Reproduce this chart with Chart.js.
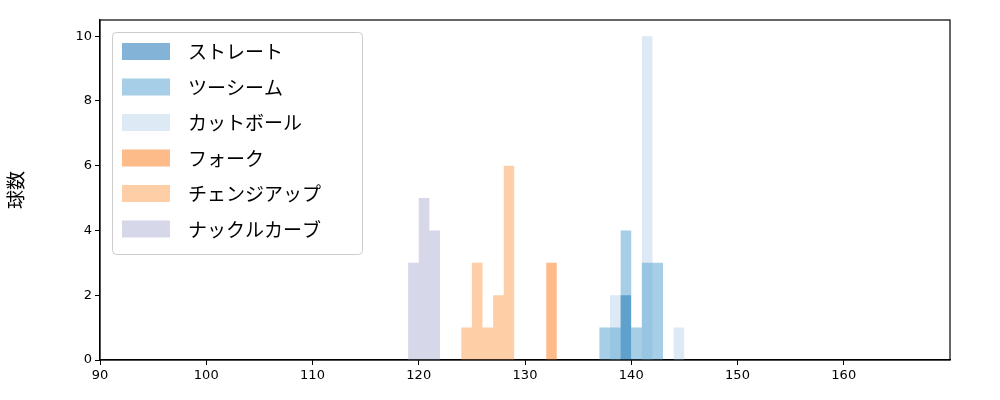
<!DOCTYPE html>
<html><head><meta charset="utf-8">
<script src="https://cdn.jsdelivr.net/npm/chart.js@4"></script>
<style>body{margin:0;background:#fff}#w{width:1000px;height:400px}</style>
</head><body><div id="w"><canvas id="c"></canvas></div>
<script>
const labels = ["ストレート","ツーシーム","カットボール","フォーク","チェンジアップ","ナックルカーブ"];
const colors = ["rgba(49,130,189,0.6)","rgba(107,174,214,0.6)","rgba(198,219,239,0.6)","rgba(253,141,60,0.6)","rgba(253,174,107,0.6)","rgba(188,189,220,0.6)"];
const straightEdges = [138,139,140];           const straightCounts = [2,5];
const twoseamEdges = [136,137,138,139,140,141,142,143]; const twoseamCounts = [1,1,4,1,3,3,2];
const cutterEdges = [137,138,139,140,141,142,143,144,145]; const cutterCounts = [2,0,0,10,0,0,1,1];
const forkEdges = [131,132,133];               const forkCounts = [3,1];
const changeEdges = [123,124,125,126,127,128,129]; const changeCounts = [1,3,1,2,6,1];
const curveEdges = [118,119,120,121,122];      const curveCounts = [3,5,4,1];
const xTicks = [90,100,110,120,130,140,150,160];
const yTicks = [0,2,4,6,8,10];
const edges = [straightEdges,twoseamEdges,cutterEdges,forkEdges,changeEdges,curveEdges];
const counts = [straightCounts,twoseamCounts,cutterCounts,forkCounts,changeCounts,curveCounts];
function pts(e,c){const p=[{x:e[0],y:0}];for(let i=0;i<c.length;i++)p.push({x:e[i+1],y:c[i]});return p;}
const datasets = labels.map((l,i)=>({label:l,data:pts(edges[i],counts[i]),stepped:'before',fill:'origin',backgroundColor:colors[i],borderWidth:0,pointRadius:0}));
const legendPlugin={id:'lg',afterDraw(ch){const g=ch.ctx;g.save();
 const a=ch.chartArea;g.strokeStyle='#000';g.lineWidth=1.2;g.strokeRect(a.left,a.top,a.right-a.left,a.bottom-a.top);
 const x=112,y=32,w=250,h=222;g.fillStyle='rgba(255,255,255,0.8)';g.strokeStyle='#ccc';g.lineWidth=1;
 g.beginPath();g.roundRect(x+0.5,y+0.5,w,h,4);g.fill();g.stroke();
 g.font='19px "Noto Sans CJK JP"';g.textBaseline='middle';
 labels.forEach((l,i)=>{const cy=51+i*35.5;g.fillStyle=colors[i];g.fillRect(122,cy-8,48,17);g.fillStyle='#000';g.fillText(l,188,cy+1);});
 g.restore();}};
new Chart(document.getElementById('c'),{type:'line',data:{datasets},plugins:[legendPlugin],
options:{responsive:true,maintainAspectRatio:false,animation:false,layout:{padding:{top:20,right:50,left:0,bottom:0}},
plugins:{legend:{display:false},tooltip:{enabled:false}},
scales:{
x:{type:'linear',min:90,max:170,afterFit(s){s.height=40;},afterBuildTicks(s){s.ticks=xTicks.map(v=>({value:v}));},
 grid:{display:true,drawOnChartArea:false,drawTicks:true,tickLength:5,color:'#000'},border:{color:'#000',width:1.2},
 ticks:{color:'#000',font:{size:13,family:'DejaVu Sans'},padding:3}},
y:{min:0,max:10.5,afterFit(s){s.width=100;},afterBuildTicks(s){s.ticks=yTicks.map(v=>({value:v}));},
 grid:{display:true,drawOnChartArea:false,drawTicks:true,tickLength:5,color:'#000'},border:{color:'#000',width:1.2},
 ticks:{color:'#000',font:{size:13,family:'DejaVu Sans'},padding:3},
 title:{display:true,text:'球数',color:'#000',font:{size:19,family:'Noto Sans CJK JP'},padding:{bottom:0}}}}},
});
</script></body></html>
